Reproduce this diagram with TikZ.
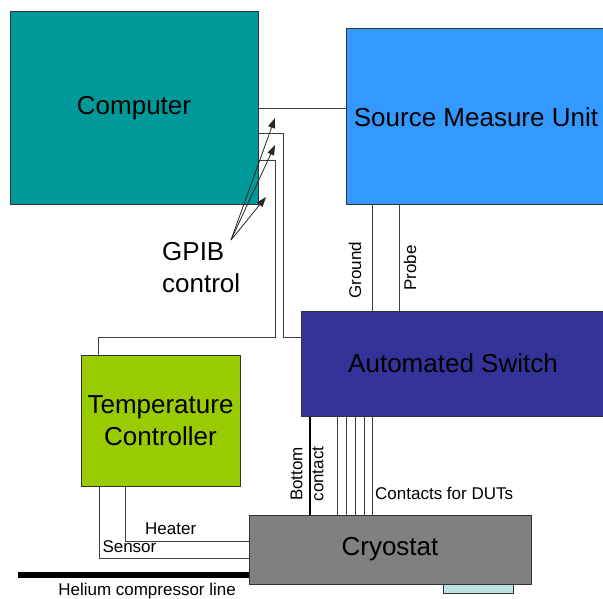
\documentclass[tikz,border=0pt]{standalone}
\usepackage{fontspec}
\setmainfont{Liberation Sans}
\usepackage{xcolor}
\usetikzlibrary{arrows.meta, positioning}
\definecolor{compcol}{HTML}{009999}
\definecolor{smucol}{HTML}{3399FF}
\definecolor{swcol}{HTML}{333399}
\definecolor{tccol}{HTML}{99CC00}
\definecolor{cryocol}{HTML}{808080}
\definecolor{basecol}{HTML}{BCE3E3}
\tikzset{
    unit/.style={rectangle, draw=black!80, line width=1pt, align=center, inner sep=0pt, font=\fontsize{26}{32}\selectfont},
    wire/.style={draw=black!75, line width=1pt},
    lbl/.style={font=\fontsize{17}{21}\selectfont, inner sep=2pt},
    gpibarrow/.style={-{Triangle[length=10pt,width=7pt]}, draw=black!85, line width=0.8pt},
}

\begin{document}
\begin{tikzpicture}[x=1pt, y=-1pt]
\useasboundingbox (0,0) rectangle (603,599);

% Instruments
\node[unit, fill=compcol, minimum width=248pt, minimum height=193pt] (comp) at (134,108.5) {Computer};
\node[unit, fill=smucol, minimum width=260pt, minimum height=176pt] (smu) at (476,117) {Source Measure Unit};
\node[unit, fill=swcol, minimum width=304pt, minimum height=105pt] (sw) at (453,363.5) {Automated Switch};
\node[unit, fill=tccol, minimum width=159pt, minimum height=131pt] (tc) at (160.5,420.5) {Temperature\\Controller};
\node[rectangle, draw=black!80, line width=1pt, fill=basecol, minimum width=70pt, minimum height=9pt, inner sep=0pt] (base) at (478,588.5) {};
\node[unit, fill=cryocol, minimum width=282pt, minimum height=69pt] (cryo) at (390,549.5) {Cryostat};

% GPIB bus
\draw[wire] (comp.east) -- (comp.east -| smu.west);
\draw[wire] (comp.east |- 0,134) -| (283,337) -- (sw.west |- 0,337);
\draw[wire] (comp.east |- 0,161) -| (275,337) -| (tc.north -| 98,0);

\node[font=\fontsize{26}{32}\selectfont, align=left, anchor=north west, inner sep=0pt] (gpib) at (162,242) {GPIB\\control};
\coordinate (gpibsrc) at (231,240);
\coordinate (gpiba) at (275,118);
\coordinate (gpibb) at (275,145);
\coordinate (gpibc) at (266,197);
\foreach \t in {a,b,c}
    \draw[gpibarrow] (gpibsrc) -- (gpib\t);

% SMU -> switch
\draw[wire] (smu.south -| 372,0) -- (sw.north -| 372,0);
\draw[wire] (smu.south -| 399,0) -- (sw.north -| 399,0);
\node[lbl, rotate=90] (gndlbl) at (355,270) {Ground};
\node[lbl, rotate=90] (prblbl) at (410,268) {Probe};

% switch -> cryostat
\draw[draw=black, line width=2.5pt] (sw.south -| 310,0) -- (cryo.north -| 310,0);
\node[lbl, rotate=90, align=center, inner sep=0pt] (bclbl) at (307,474) {Bottom\\contact};
\foreach \x in {337,346,355,364,372}
    \draw[wire] (sw.south -| \x,0) -- (cryo.north -| \x,0);
\node[lbl, anchor=west] (dutlbl) at (373,493) {Contacts for DUTs};

% temperature controller -> cryostat
\draw[wire] (tc.south -| 125,0) |- (cryo.west |- 0,541) node[lbl, pos=0.685, above=4pt] {Heater};
\draw[wire] (tc.south -| 99,0) |- (cryo.west |- 0,558) node[lbl, pos=0.5, above right=3pt and 1pt] {Sensor};

% helium line
\coordinate (heend) at (18,575);
\draw[draw=black, line width=6pt] (heend) -- (cryo.west |- heend) node[lbl, pos=0.56, below=3pt] {Helium compressor line};

\end{tikzpicture}
\end{document}
